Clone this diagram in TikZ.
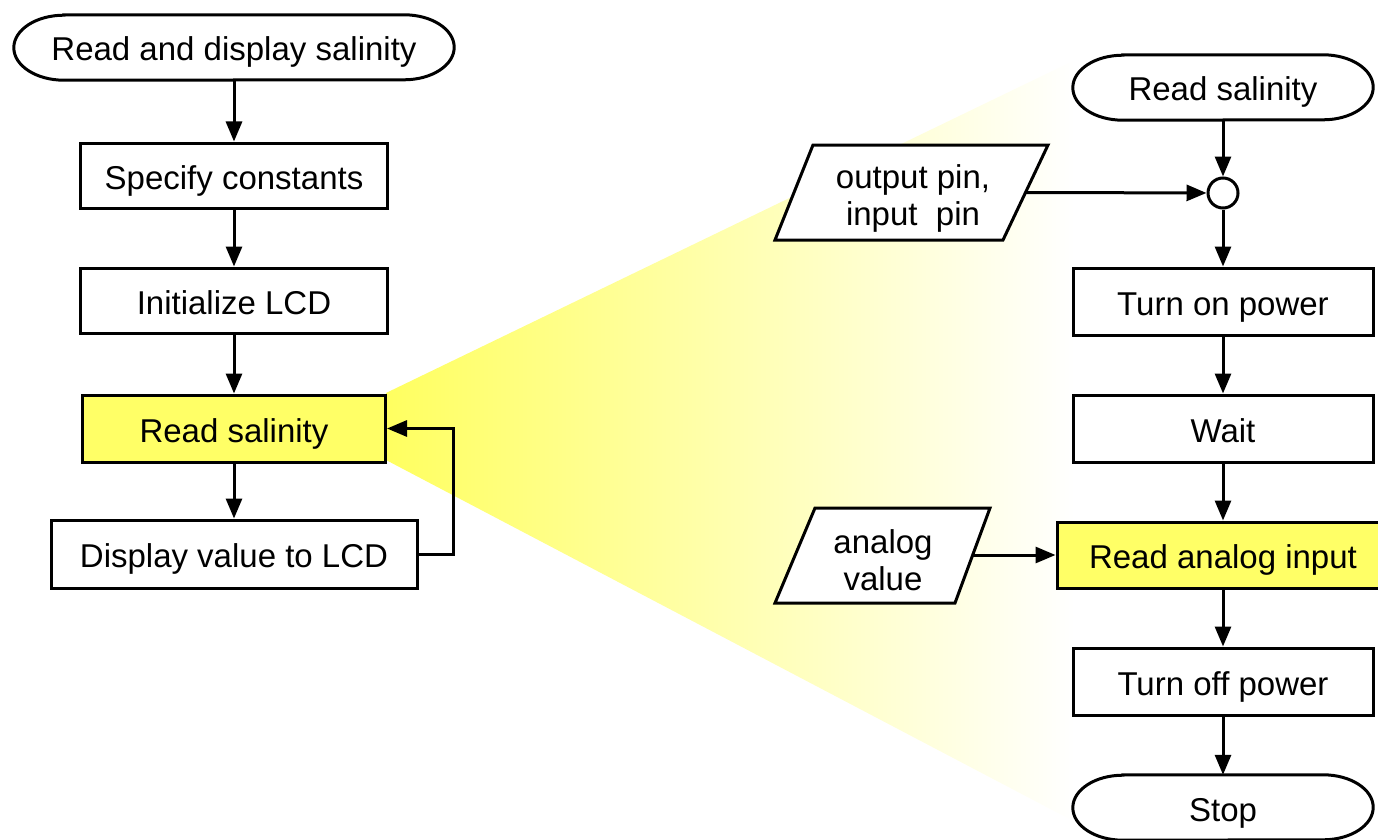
\documentclass[tikz,border=0pt]{standalone}
\usepackage{fontspec}
\setmainfont{Liberation Sans}
\usetikzlibrary{arrows.meta}
\definecolor{hiyel}{RGB}{255,255,102}
\definecolor{wedgeyel}{RGB}{255,255,96}
\tikzset{
  lw/.style={line width=3pt},
  txt/.style={font=\fontsize{33}{37}\selectfont, align=center},
  onetxt/.style={font=\fontsize{33}{37}\selectfont, text height=31pt, text depth=4pt},
  box/.style={lw, draw=black, fill=white, minimum width=#1, minimum height=65pt, inner sep=0pt, onetxt},
  box/.default=300pt,
  hbox/.style={box=#1, fill=hiyel},
  hbox/.default=300pt,
  termtext/.style={minimum width=#1, minimum height=65pt, inner sep=0pt},
  termtext/.default=300pt,
  flow/.style={lw, -{Triangle[length=20pt,width=16pt]}},
  para/.style={lw, draw=black, fill=white, line join=miter},
}
\newcommand\termline[1]{%
  \draw[lw, fill=white] ([xshift=50pt]#1.north west) -- ([xshift=-50pt]#1.north east)
    arc[start angle=90,end angle=-90,x radius=50pt,y radius=32.5pt]
    -- ([xshift=50pt]#1.south west)
    arc[start angle=270,end angle=90,x radius=50pt,y radius=32.5pt] -- cycle;}
\begin{document}
\begin{tikzpicture}[x=1pt,y=1pt]
\useasboundingbox (0,0) rectangle (1378,-840);
% highlight wedge
\shade[left color=wedgeyel, right color=white] (386,-393) -- (1075,-60) -- (1075,-822) -- (386,-460) -- cycle;

% ---------- left column ----------
\node[termtext=440pt] (start) at (234,-47.5) {};
\termline{start}
\node[onetxt, inner sep=0pt] at (start) {Read and display salinity};
\node[box=307pt] (spec) at (234,-175.5) {Specify constants};
\node[box=307pt] (init) at (234,-300.5) {Initialize LCD};
\node[hbox=303pt, minimum height=67pt] (rs) at (234,-428.5) {Read salinity};
\node[box=366pt, minimum height=68pt] (disp) at (234,-554) {Display value to LCD};

\draw[flow] (start) -- (spec);
\draw[flow] (spec) -- (init);
\draw[flow] (init) -- (rs);
\draw[flow] (rs) -- (disp);
\draw[flow] (disp.east) -- ++(35,0) |- (rs.east);

% ---------- right column ----------
\node[termtext=300pt] (rstart) at (1223,-87.5) {};
\termline{rstart}
\node[onetxt, inner sep=0pt] at (rstart) {Read salinity};
\node[circle, lw, draw=black, fill=white, minimum size=30pt, inner sep=0pt] (join) at (1223,-193) {};
\node[box=300pt, minimum height=67pt] (on) at (1223,-301.5) {Turn on power};
\node[box=300pt, minimum height=67pt] (wait) at (1223,-428.5) {Wait};
\node[hbox=332pt, minimum height=66pt] (rai) at (1223,-555) {Read analog input};
\node[box=300pt, minimum height=67pt] (off) at (1223,-681.5) {Turn off power};
\node[termtext=300pt] (stop) at (1223,-807.5) {};
\termline{stop}
\node[onetxt, inner sep=0pt] at (stop) {Stop};

\draw[flow] (rstart) -- (join);
\draw[flow] (join) -- (on);
\draw[flow] (on) -- (wait);
\draw[flow] (wait) -- (rai);
\draw[flow] (rai) -- (off);
\draw[flow] (off) -- (stop);

% ---------- inputs (parallelograms) ----------
\draw[para] (813,-145) -- (1048,-145) -- (1003,-240) -- (775,-240) -- cycle;
\node[txt] (pins) at (913,-198) {output pin,\\input\ \ pin};
\coordinate (pinsr) at (1025.5,-192.5);
\draw[flow] (pinsr) -- (join);

\draw[para] (815,-508) -- (990,-508) -- (955,-603) -- (775,-603) -- cycle;
\node[txt] (aval) at (883,-560) {analog\\value};
\coordinate (avalr) at (972.5,-555);
\draw[flow] (avalr) -- (rai);
\end{tikzpicture}
\end{document}
